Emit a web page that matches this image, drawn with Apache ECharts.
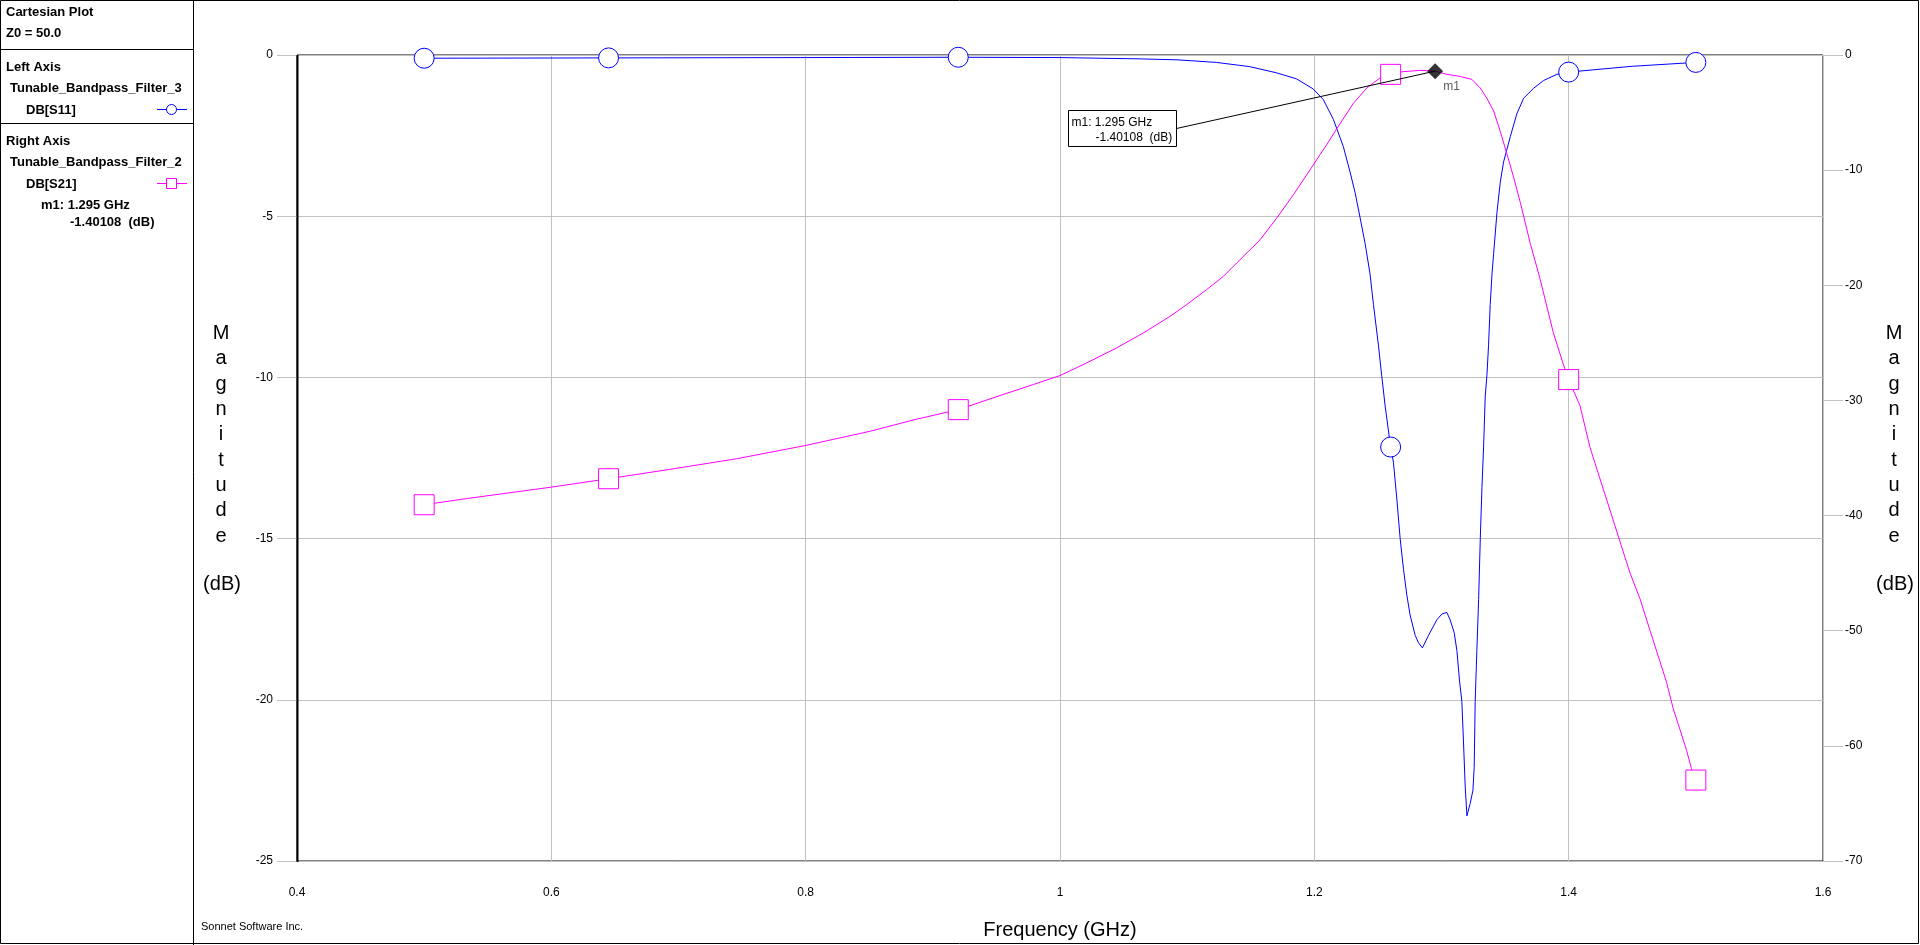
<!DOCTYPE html>
<html><head><meta charset="utf-8">
<script src="https://cdn.jsdelivr.net/npm/echarts@6/dist/echarts.min.js"></script>
<style>html,body{margin:0;padding:0;background:#fff}#c{width:1920px;height:945px}</style>
</head><body><div id="c"></div>
<script>
// ---- data ----
const xTickValues = [0.4, 0.6, 0.8, 1.0, 1.2, 1.4, 1.6];
const leftTickValues = [0, -5, -10, -15, -20, -25];
const rightTickValues = [0, -10, -20, -30, -40, -50, -60, -70];

// DB[S11] (left axis), frequency in GHz
const s11Freq = [0.5, 0.645, 0.8, 0.92, 1.0, 1.063, 1.092, 1.123, 1.149, 1.17, 1.186, 1.199, 1.207, 1.215, 1.2228, 1.2281, 1.232, 1.236, 1.2399, 1.2438, 1.2465, 1.2504, 1.253, 1.2557, 1.26, 1.2622, 1.2648, 1.2675, 1.2701, 1.2727, 1.2753, 1.2793, 1.2819, 1.285, 1.2898, 1.2963, 1.3003, 1.3042, 1.3068, 1.31, 1.3121, 1.3142, 1.316, 1.3173, 1.3187, 1.32, 1.3226, 1.3247, 1.3257, 1.3265, 1.3278, 1.3292, 1.3305, 1.3318, 1.3331, 1.3344, 1.3357, 1.337, 1.3383, 1.3397, 1.341, 1.3436, 1.3462, 1.3488, 1.3515, 1.3541, 1.3593, 1.3646, 1.3725, 1.3803, 1.3908, 1.4, 1.45, 1.5];
const s11Db = [-0.10, -0.09, -0.08, -0.07, -0.08, -0.12, -0.15, -0.23, -0.36, -0.55, -0.74, -1.05, -1.38, -2.0, -2.84, -3.63, -4.26, -5.05, -5.84, -6.79, -7.74, -9.0, -9.95, -10.89, -12.16, -12.63, -13.74, -15.0, -15.95, -16.74, -17.37, -18.0, -18.23, -18.39, -18.0, -17.52, -17.34, -17.29, -17.52, -17.92, -18.47, -19.42, -20.05, -21.31, -22.73, -23.6, -23.21, -22.81, -22.1, -20.05, -18.47, -16.89, -15.0, -13.42, -12.16, -10.58, -9.95, -9.0, -7.74, -6.79, -6.16, -4.89, -3.95, -3.32, -2.92, -2.53, -1.82, -1.34, -1.03, -0.79, -0.60, -0.53, -0.35, -0.23];
const s11MarkerFreq = [0.5, 0.645, 0.92, 1.26, 1.4, 1.5];

// DB[S21] (right axis)
const s21Freq = [0.5, 0.535, 0.6, 0.645, 0.693, 0.7455, 0.8, 0.851, 0.886, 0.92, 0.953, 0.979, 1.0, 1.021, 1.0445, 1.0655, 1.0865, 1.0996, 1.1153, 1.1284, 1.1389, 1.1573, 1.1704, 1.1835, 1.194, 1.2044, 1.21, 1.2176, 1.2307, 1.2412, 1.2517, 1.26, 1.2688, 1.2832, 1.295, 1.3042, 1.3147, 1.3239, 1.3305, 1.3357, 1.341, 1.3462, 1.3515, 1.3567, 1.362, 1.3698, 1.3774, 1.3879, 1.3957, 1.4, 1.4089, 1.4168, 1.4246, 1.4325, 1.4403, 1.4482, 1.4561, 1.4639, 1.4718, 1.477, 1.4822, 1.4875, 1.4927, 1.4966, 1.5];
const s21Db = [-39.06, -38.5, -37.53, -36.8, -35.99, -35.07, -33.91, -32.67, -31.66, -30.8, -29.57, -28.62, -27.84, -26.74, -25.44, -24.14, -22.7, -21.68, -20.38, -19.23, -18.07, -16.05, -14.17, -12.14, -10.41, -8.67, -7.74, -6.41, -4.2, -2.87, -1.99, -1.68, -1.46, -1.33, -1.40108, -1.68, -1.86, -2.12, -2.87, -3.76, -4.86, -6.63, -8.62, -10.61, -12.82, -16.36, -19.4, -24.1, -26.83, -28.19, -30.45, -34.08, -36.8, -39.52, -42.24, -44.97, -47.23, -49.96, -52.68, -54.49, -56.76, -58.58, -60.39, -61.98, -62.97];
const s21MarkerFreq = [0.5, 0.645, 0.92, 1.26, 1.4, 1.5];

// Marker m1
const m1Freq = 1.295;
const m1Db = -1.40108;

// ---- chart ----
const FONT = '"Liberation Sans", Arial, sans-serif';
const chart = echarts.init(document.getElementById('c'), null, {renderer: 'canvas'});

function buildSeriesData(freqs, vals, marks) {
  return freqs.map((f, i) => {
    const isMark = marks.some(m => Math.abs(m - f) < 1e-9);
    return isMark ? {value: [f, vals[i]]} : {value: [f, vals[i]], symbol: 'none'};
  });
}
const fmt = v => String(+(+v).toFixed(2));

const option = {
  animation: false,
  backgroundColor: '#fff',
  textStyle: {fontFamily: FONT},
  grid: {left: 297, right: 97, top: 55, bottom: 83, show: true, borderColor: '#000', borderWidth: 1, backgroundColor: 'transparent'},
  xAxis: {
    type: 'value', min: xTickValues[0], max: xTickValues[xTickValues.length - 1], interval: 0.2,
    name: 'Frequency (GHz)', nameLocation: 'middle', nameGap: 59,
    nameTextStyle: {fontSize: 20, color: '#000', fontFamily: FONT},
    axisLine: {show: false},
    axisTick: {show: true, length: 20, lineStyle: {color: '#c0c0c0', width: 1}},
    axisLabel: {margin: 26, fontSize: 12, color: '#000', fontFamily: FONT, formatter: fmt},
    splitLine: {show: true, lineStyle: {color: '#c0c0c0', width: 1}}
  },
  yAxis: [{
    type: 'value', min: leftTickValues[leftTickValues.length - 1], max: leftTickValues[0], interval: 5,
    position: 'left',
    axisLine: {show: false},
    axisTick: {show: true, length: 20, lineStyle: {color: '#c0c0c0', width: 1}},
    axisLabel: {margin: 24, fontSize: 12, color: '#000', fontFamily: FONT, formatter: fmt},
    splitLine: {show: true, lineStyle: {color: '#c0c0c0', width: 1}}
  }, {
    type: 'value', min: rightTickValues[rightTickValues.length - 1], max: rightTickValues[0], interval: 10,
    position: 'right',
    axisLine: {show: false},
    axisTick: {show: true, length: 20, lineStyle: {color: '#c0c0c0', width: 1}},
    axisLabel: {margin: 22, fontSize: 12, color: '#000', fontFamily: FONT, formatter: fmt},
    splitLine: {show: false}
  }],
  series: [{
    name: 'DB[S11]', type: 'line', xAxisIndex: 0, yAxisIndex: 0,
    data: buildSeriesData(s11Freq, s11Db, s11MarkerFreq),
    symbol: 'circle', symbolSize: 20, showSymbol: true,
    lineStyle: {color: '#0000ff', width: 1},
    itemStyle: {color: '#ffffff', borderColor: '#0000ff', borderWidth: 1},
    emphasis: {disabled: true}, z: 3
  }, {
    name: 'DB[S21]', type: 'line', xAxisIndex: 0, yAxisIndex: 1,
    data: buildSeriesData(s21Freq, s21Db, s21MarkerFreq),
    symbol: 'rect', symbolSize: 20, showSymbol: true,
    lineStyle: {color: '#ff00ff', width: 1},
    itemStyle: {color: '#ffffff', borderColor: '#ff00ff', borderWidth: 1},
    emphasis: {disabled: true}, z: 3
  }, {
    name: 'm1', type: 'scatter', xAxisIndex: 0, yAxisIndex: 1,
    data: [[m1Freq, m1Db]],
    symbol: 'diamond', symbolSize: 16,
    itemStyle: {color: '#000'},
    label: {show: true, position: 'right', distance: 0, offset: [0, 16], formatter: 'm1', fontSize: 12, color: '#333', fontFamily: FONT},
    emphasis: {disabled: true}, z: 5
  }]
};
chart.setOption(option);

// ---- annotations / side panel ----
const p = chart.convertToPixel({xAxisIndex: 0, yAxisIndex: 1}, [m1Freq, m1Db]);
const tl = chart.convertToPixel({xAxisIndex: 0, yAxisIndex: 0}, [xTickValues[0], leftTickValues[0]]);
const bl = chart.convertToPixel({xAxisIndex: 0, yAxisIndex: 0}, [xTickValues[0], leftTickValues[leftTickValues.length - 1]]);
const bx = Math.round(p[0] - 367) + 0.5, by = Math.round(p[1] + 39) + 0.5;
const panelText = (x, y, t) => ({type: 'text', x: x, y: y, style: {text: t, font: 'bold 13px ' + FONT, fill: '#000', verticalAlign: 'middle'}, z: 50});
const magStyle = (x) => ({type: 'text', x: x, y: 321, style: {text: 'M\na\ng\nn\ni\nt\nu\nd\ne', font: '20px ' + FONT, fill: '#000', align: 'center', lineHeight: 25.3}, z: 50});
chart.setOption({
  graphic: [
    {type: 'rect', shape: {x: 0.5, y: 0.5, width: 1918, height: 943}, style: {fill: 'none', stroke: '#000', lineWidth: 1}, z: 40},
    {type: 'line', shape: {x1: 193.5, y1: 0, x2: 193.5, y2: 945}, style: {stroke: '#000', lineWidth: 1}, z: 40},
    {type: 'line', shape: {x1: 0, y1: 49.5, x2: 193, y2: 49.5}, style: {stroke: '#000', lineWidth: 1}, z: 40},
    {type: 'line', shape: {x1: 0, y1: 123.5, x2: 193, y2: 123.5}, style: {stroke: '#000', lineWidth: 1}, z: 40},
    {type: 'line', shape: {x1: tl[0] + 0.5, y1: tl[1], x2: bl[0] + 0.5, y2: bl[1] + 1}, style: {stroke: '#000', lineWidth: 2}, z: 40},
    panelText(6, 12, 'Cartesian Plot'),
    panelText(6, 33, 'Z0 = 50.0'),
    panelText(6, 67, 'Left Axis'),
    {type: 'group', children: [{type: 'text', x: 10, y: 88, style: {text: 'Tunable_Bandpass_Filter_3', font: 'bold 13px ' + FONT, fill: '#000', verticalAlign: 'middle'}}], clipPath: {type: 'rect', shape: {x: 0, y: 0, width: 193, height: 945}}, z: 50},
    panelText(26, 110, 'DB[S11]'),
    {type: 'line', shape: {x1: 157, y1: 109.5, x2: 187, y2: 109.5}, style: {stroke: '#0000ff', lineWidth: 1}, z: 50},
    {type: 'circle', shape: {cx: 171.5, cy: 109.5, r: 5}, style: {fill: '#fff', stroke: '#0000ff', lineWidth: 1}, z: 51},
    panelText(6, 141, 'Right Axis'),
    panelText(10, 162, 'Tunable_Bandpass_Filter_2'),
    panelText(26, 184, 'DB[S21]'),
    {type: 'line', shape: {x1: 157, y1: 183.5, x2: 187, y2: 183.5}, style: {stroke: '#ff00ff', lineWidth: 1}, z: 50},
    {type: 'rect', shape: {x: 166.5, y: 178.5, width: 10, height: 10}, style: {fill: '#fff', stroke: '#ff00ff', lineWidth: 1}, z: 51},
    panelText(41, 205, 'm1: 1.295 GHz'),
    panelText(70, 222, '-1.40108  (dB)'),
    {type: 'text', x: 201, y: 927, style: {text: 'Sonnet Software Inc.', font: '11px ' + FONT, fill: '#000', verticalAlign: 'middle'}, z: 50},
    magStyle(221),
    {type: 'text', x: 222, y: 584, style: {text: '(dB)', font: '20px ' + FONT, fill: '#000', align: 'center', verticalAlign: 'middle'}, z: 50},
    magStyle(1894),
    {type: 'text', x: 1895, y: 584, style: {text: '(dB)', font: '20px ' + FONT, fill: '#000', align: 'center', verticalAlign: 'middle'}, z: 50},
    // m1 callout
    {type: 'line', shape: {x1: bx + 108, y1: by + 18, x2: p[0], y2: p[1]}, style: {stroke: '#000', lineWidth: 1}, z: 60},
    {type: 'rect', shape: {x: bx, y: by, width: 108, height: 36}, style: {fill: '#fff', stroke: '#000', lineWidth: 1}, z: 61},
    {type: 'text', x: bx + 3, y: by + 12, style: {text: 'm1: 1.295 GHz', font: '12px ' + FONT, fill: '#000', verticalAlign: 'middle'}, z: 62},
    {type: 'text', x: bx + 27, y: by + 27, style: {text: '-1.40108  (dB)', font: '12px ' + FONT, fill: '#000', verticalAlign: 'middle'}, z: 62}
  ]
});
</script></body></html>
